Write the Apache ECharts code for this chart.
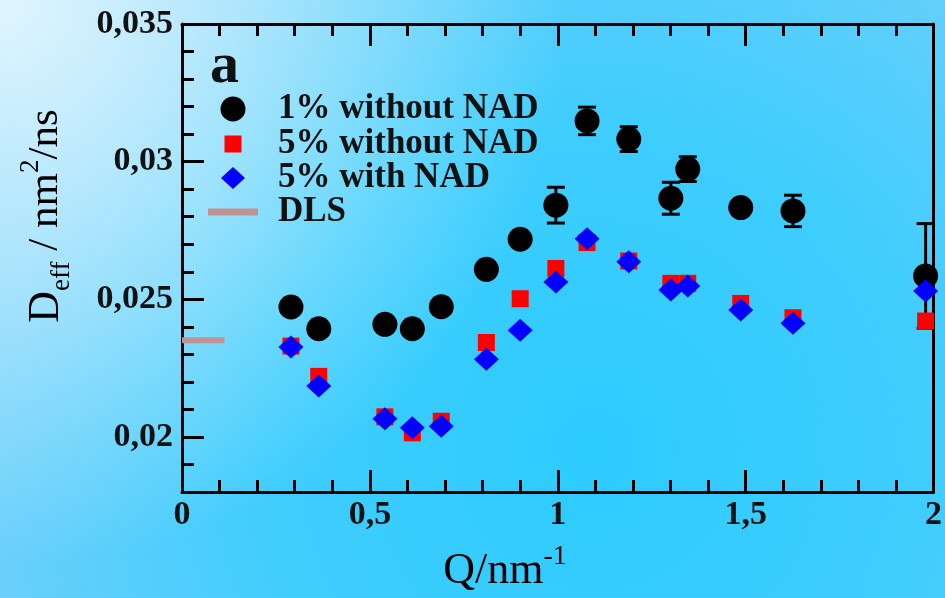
<!DOCTYPE html>
<html>
<head>
<meta charset="utf-8">
<script src="https://cdn.jsdelivr.net/npm/echarts@6/dist/echarts.min.js"></script>
<style>
html, body { margin: 0; padding: 0; background: #fff; }
#chart { width: 945px; height: 598px; }
</style>
</head>
<body>
<div id="chart"></div>
<script>
// Scattering vector Q (nm^-1) shared by the three data sets
const qValues = [0.29, 0.364, 0.54, 0.613, 0.69, 0.81, 0.90, 0.995, 1.078, 1.189, 1.301, 1.346, 1.487, 1.626, 1.979];

// Effective diffusion coefficient D_eff (nm^2/ns)
const dOnePctNoNad  = [0.02472, 0.02393, 0.02409, 0.02393, 0.02473, 0.02609, 0.02718, 0.02842, 0.03148, 0.03082, 0.02867, 0.02973, 0.02833, 0.02821, 0.02585];
const errOnePctNoNad = [0, 0, 0, 0, 0, 0, 0, 0.00065, 0.0005, 0.00045, 0.00058, 0.00045, 0, 0.00057, 0.0019];
const dFivePctNoNad = [0.0233, 0.0222, 0.02073, 0.02015, 0.02057, 0.02343, 0.02502, 0.02612, 0.02706, 0.02639, 0.02558, 0.02558, 0.02485, 0.02433, 0.02421];
const dFivePctNad   = [0.02327, 0.02185, 0.02066, 0.02033, 0.02039, 0.02282, 0.02388, 0.02563, 0.0272, 0.02636, 0.02534, 0.02548, 0.02461, 0.02413, 0.0253];

// DLS reference value, drawn as a short segment at low Q
const dlsQ = [0, 0.113];
const dlsD = 0.02351;

// Axis ticks
const xTickLabels = [0, 0.5, 1, 1.5, 2];
const yMajorTicks = [0.02, 0.025, 0.03, 0.035];
const yMinorTicks = [0.018, 0.019, 0.021, 0.022, 0.023, 0.024, 0.026, 0.027, 0.028, 0.029, 0.031, 0.032, 0.033, 0.034];

const seriesNames = ['1% without NAD', '5% without NAD', '5% with NAD', 'DLS'];

const SERIF = '"Liberation Serif", "Times New Roman", serif';
const commaDecimal = v => String(+v.toFixed(4)).replace('.', ',');

const pairs = ys => qValues.map((q, i) => [q, ys[i]]);
const errorData = qValues
  .map((q, i) => [q, dOnePctNoNad[i], errOnePctNoNad[i]])
  .filter(d => d[2] > 0);

const chart = echarts.init(document.getElementById('chart'), null, { renderer: 'canvas' });

const axisLineStyle = { color: '#000', width: 3 };
const tickStyle = { color: '#000', width: 3 };

function legendBlock(name, icon, w, h, top, gap) {
  return {
    data: [{ name: name, icon: icon }],
    left: 233 - w / 2,
    top: top,
    padding: 0,
    itemWidth: w,
    itemHeight: h,
    selectedMode: false,
    formatter: '{g|}{name}',
    textStyle: {
      fontFamily: SERIF,
      fontWeight: 'bold',
      fontSize: 35,
      lineHeight: 36,
      color: '#111',
      rich: { g: { width: gap } }
    }
  };
}

const option = {
  animation: false,
  graphic: {
    elements: [
      {
        type: 'rect', z: -20, silent: true,
        shape: { x: 0, y: 0, width: 945, height: 598 },
        style: {
          fill: new echarts.graphic.RadialGradient(0.63, 0.75, 1.0, [
            { offset: 0, color: '#2ccbfe' },
            { offset: 0.55, color: '#3fcdfd' },
            { offset: 1, color: '#68cffb' }
          ])
        }
      },
      {
        type: 'rect', z: -19, silent: true,
        shape: { x: 0, y: 0, width: 945, height: 598 },
        style: {
          fill: new echarts.graphic.RadialGradient(0, 0, 0.95, [
            { offset: 0, color: 'rgba(255,255,255,0.8)' },
            { offset: 0.5, color: 'rgba(255,255,255,0.42)' },
            { offset: 1, color: 'rgba(255,255,255,0)' }
          ])
        }
      },
      {
        type: 'text', x: 210, y: 67, z: 10,
        style: {
          text: 'a', fontFamily: SERIF, fontWeight: 'bold', fontSize: 58,
          fill: '#111', align: 'left', verticalAlign: 'middle'
        }
      },
      {
        type: 'text', x: 46, y: 216, rotation: Math.PI / 2, z: 10,
        style: {
          text: '{d|D}{s|eff}{n| / nm}{p|2}{n|/ns}',
          align: 'center', verticalAlign: 'middle', fill: '#000',
          rich: {
            d: { fontFamily: SERIF, fontSize: 44, lineHeight: 58 },
            n: { fontFamily: SERIF, fontSize: 43, lineHeight: 58 },
            s: { fontFamily: SERIF, fontSize: 27, lineHeight: 27, verticalAlign: 'bottom' },
            p: { fontFamily: SERIF, fontSize: 27, lineHeight: 27, verticalAlign: 'top' }
          }
        }
      },
      {
        type: 'text', x: 505, y: 571, z: 10,
        style: {
          text: '{q|Q/nm}{p|-1}',
          align: 'center', verticalAlign: 'middle', fill: '#000',
          rich: {
            q: { fontFamily: SERIF, fontSize: 44, lineHeight: 56 },
            p: { fontFamily: SERIF, fontSize: 28, lineHeight: 28, verticalAlign: 'top' }
          }
        }
      }
    ]
  },
  legend: [
    legendBlock(seriesNames[0], 'circle', 25, 25, 91, 27.5),
    legendBlock(seriesNames[1], 'rect', 17, 17, 126, 31.5),
    legendBlock(seriesNames[2], 'diamond', 24, 22, 160, 28),
    legendBlock(seriesNames[3], 'rect', 50, 7, 194, 15)
  ],
  grid: { left: 182, right: 8, top: 24, bottom: 106, containLabel: false },
  xAxis: [
    {
      type: 'value', position: 'bottom', min: 0, max: 2, interval: 0.5,
      axisLine: { show: true, lineStyle: axisLineStyle },
      axisTick: { show: true, inside: true, length: 22, lineStyle: tickStyle },
      minorTick: { show: true, splitNumber: 5, length: 12, lineStyle: tickStyle },
      splitLine: { show: false },
      axisLabel: {
        margin: 6, fontFamily: SERIF, fontWeight: 'bold', fontSize: 34, color: '#111',
        customValues: xTickLabels,
        formatter: commaDecimal
      }
    },
    {
      type: 'value', position: 'top', min: 0, max: 2, interval: 0.5,
      axisLine: { show: true, lineStyle: axisLineStyle },
      axisTick: { show: true, inside: true, length: 22, lineStyle: tickStyle },
      minorTick: { show: true, splitNumber: 5, length: 12, lineStyle: tickStyle },
      splitLine: { show: false },
      axisLabel: { show: false }
    }
  ],
  yAxis: [
    {
      type: 'value', position: 'left', min: 0.018, max: 0.035,
      axisLine: { show: true, lineStyle: axisLineStyle },
      axisTick: { show: true, inside: true, length: 22, lineStyle: tickStyle, customValues: yMajorTicks },
      splitLine: { show: false },
      axisLabel: {
        margin: 9, fontFamily: SERIF, fontWeight: 'bold', fontSize: 34, color: '#111',
        customValues: yMajorTicks,
        formatter: commaDecimal
      }
    },
    {
      type: 'value', position: 'left', min: 0.018, max: 0.035,
      axisLine: { show: false },
      axisTick: { show: true, inside: true, length: 12, lineStyle: tickStyle, customValues: yMinorTicks },
      splitLine: { show: false },
      axisLabel: { show: false }
    },
    {
      type: 'value', position: 'right', min: 0.018, max: 0.035,
      axisLine: { show: true, lineStyle: axisLineStyle },
      axisTick: { show: false },
      splitLine: { show: false },
      axisLabel: { show: false }
    }
  ],
  series: [
    {
      name: seriesNames[3],
      type: 'line',
      data: dlsQ.map(q => [q, dlsD]),
      symbol: 'none',
      lineStyle: { color: '#c29292', width: 6 },
      itemStyle: { color: '#c29292' },
      z: 3
    },
    {
      name: 'errors',
      type: 'custom',
      data: errorData,
      encode: { x: 0, y: 1 },
      z: 3,
      renderItem: function (params, api) {
        const q = api.value(0), d = api.value(1), e = api.value(2);
        const top = api.coord([q, d + e]);
        const bot = api.coord([q, d - e]);
        const hw = 9;
        const st = { stroke: '#000', lineWidth: 3 };
        return {
          type: 'group',
          children: [
            { type: 'line', shape: { x1: top[0], y1: top[1], x2: bot[0], y2: bot[1] }, style: st },
            { type: 'line', shape: { x1: top[0] - hw, y1: top[1], x2: top[0] + hw, y2: top[1] }, style: st },
            { type: 'line', shape: { x1: bot[0] - hw, y1: bot[1], x2: bot[0] + hw, y2: bot[1] }, style: st }
          ]
        };
      }
    },
    {
      name: seriesNames[0],
      type: 'scatter',
      data: pairs(dOnePctNoNad),
      symbol: 'circle',
      symbolSize: 25,
      itemStyle: { color: '#000', opacity: 1 },
      z: 4
    },
    {
      name: seriesNames[1],
      type: 'scatter',
      data: pairs(dFivePctNoNad),
      symbol: 'rect',
      symbolSize: 17,
      itemStyle: { color: '#ff0000', opacity: 1 },
      z: 5
    },
    {
      name: seriesNames[2],
      type: 'scatter',
      data: pairs(dFivePctNad),
      symbol: 'diamond',
      symbolSize: [25, 23],
      itemStyle: { color: '#0000ff', opacity: 1 },
      z: 6
    }
  ]
};

chart.setOption(option);
</script>
</body>
</html>
